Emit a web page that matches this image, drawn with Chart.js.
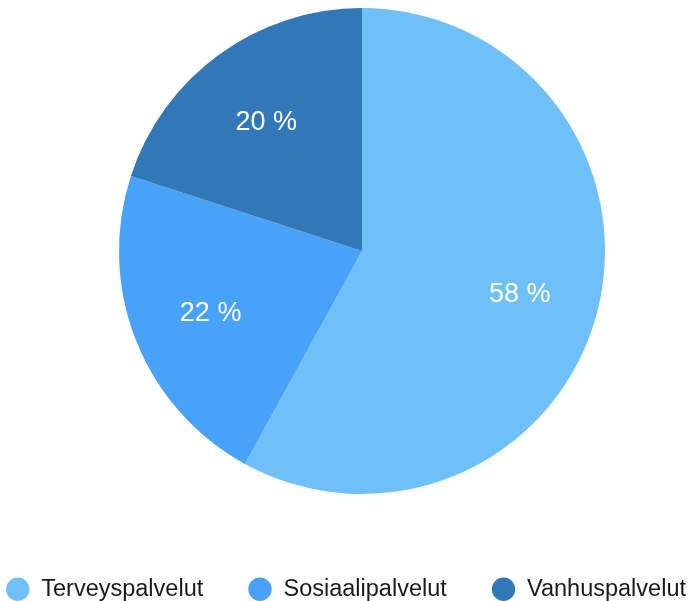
<!DOCTYPE html>
<html>
<head>
<meta charset="utf-8">
<script src="https://cdn.jsdelivr.net/npm/chart.js@4.4.1/dist/chart.umd.min.js"></script>
<style>
  html, body { margin: 0; padding: 0; background: #fff; }
  #wrap { width: 692px; height: 601px; }
</style>
</head>
<body>
<div id="wrap"><canvas id="pieChart"></canvas></div>
<script>
const categories = ['Terveyspalvelut', 'Sosiaalipalvelut', 'Vanhuspalvelut'];
const shares = [58, 22, 20];
const sliceColors = ['#6fbff9', '#47a2f8', '#3277b8'];

// percent labels inside the slices
const percentLabels = {
  id: 'percentLabels',
  afterDatasetsDraw(chart) {
    const ctx = chart.ctx;
    const meta = chart.getDatasetMeta(0);
    ctx.save();
    ctx.fillStyle = '#fff';
    ctx.font = '27px "Liberation Sans", Arial, sans-serif';
    ctx.textAlign = 'center';
    ctx.textBaseline = 'middle';
    meta.data.forEach((arc, i) => {
      const p = arc.getProps(['x', 'y', 'startAngle', 'endAngle', 'outerRadius'], true);
      const mid = (p.startAngle + p.endAngle) / 2;
      const r = p.outerRadius * 0.67;
      ctx.fillText(shares[i] + ' %', p.x + Math.cos(mid) * r, p.y + Math.sin(mid) * r + 3);
    });
    ctx.restore();
  }
};

// pie sits a bit right of centre with space above the legend,
// legend keeps one wide-spaced row and hugs the bottom edge
const placement = {
  id: 'placement',
  beforeLayout(chart) {
    const legend = chart.legend;
    if (legend && !legend._oneRow) {
      const fitRows = legend._fitRows;
      legend._fitRows = function (...args) {
        const w = this.maxWidth;
        this.maxWidth = w + 200;
        const h = fitRows.apply(this, args);
        this.maxWidth = w;
        return h;
      };
      legend._oneRow = true;
    }
  },
  afterLayout(chart) {
    const a = chart.chartArea;
    a.left += 32;
    a.width = a.right - a.left;
    a.bottom = 494;
    a.height = a.bottom - a.top;
    const lg = chart.legend;
    lg.left -= 100;
    lg.right += 100;
    lg.top += 10;
    lg.bottom += 10;
  }
};

new Chart(document.getElementById('pieChart'), {
  type: 'pie',
  data: {
    labels: categories,
    datasets: [{
      data: shares,
      backgroundColor: sliceColors,
      borderWidth: 0
    }]
  },
  options: {
    responsive: true,
    maintainAspectRatio: false,
    animation: false,
    layout: { padding: { top: 8 } },
    plugins: {
      tooltip: { enabled: false },
      legend: {
        position: 'bottom',
        labels: {
          usePointStyle: true,
          pointStyle: 'circle',
          boxHeight: 16.5,
          padding: 45,
          color: '#1a1a1a',
          font: { family: '"Liberation Sans", Arial, sans-serif', size: 23.5 }
        }
      }
    }
  },
  plugins: [percentLabels, placement]
});
</script>
</body>
</html>
